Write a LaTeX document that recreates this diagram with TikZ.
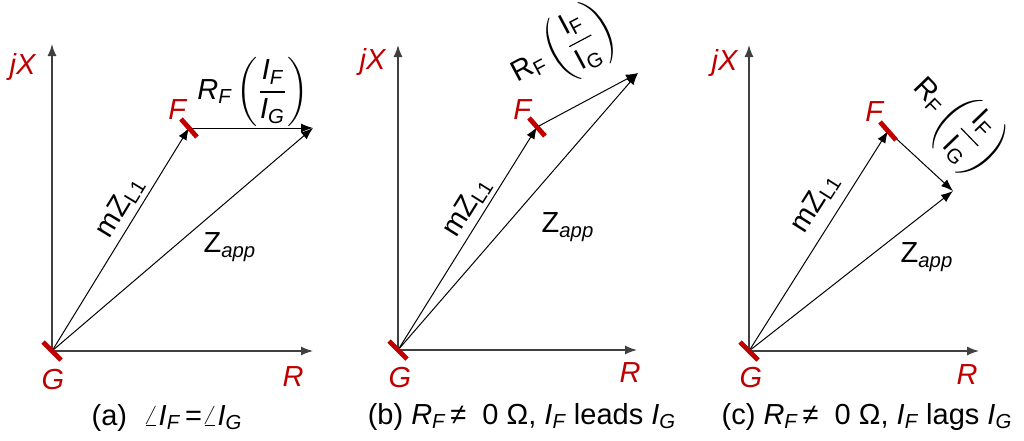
\documentclass[tikz,border=0pt]{standalone}
\usepackage{amsmath}
\usepackage{fontspec}
\setmainfont{Liberation Sans}
\usetikzlibrary{arrows.meta, calc}

\definecolor{faultred}{RGB}{192,0,0}

\tikzset{
  axisline/.style={draw=black!75, line width=0.7pt, -{Latex[length=6pt,width=4.5pt]}},
  phasor/.style={draw=black, line width=0.5pt, -{Latex[length=6pt,width=4.5pt]}},
  faultmark/.style={draw=faultred, line width=2.4pt},
  redlabel/.style={text=faultred, inner sep=0pt, font=\fontsize{14.5}{17}\selectfont},
  veclabel/.style={inner sep=0pt, font=\fontsize{14.5}{17}\selectfont},
  caption/.style={inner sep=0pt, font=\fontsize{14.5}{17}\selectfont},
}

\begin{document}
\begin{tikzpicture}[x=0.5pt, y=-0.5pt]
  \useasboundingbox (0,0) rectangle (1024,440);

  % points of the three diagrams
  \coordinate (Ga) at (52,351);  \coordinate (Fa) at (189,128);
  \coordinate (Ea) at (313,128); \coordinate (Xa) at (313,351);
  \coordinate (Ya) at (52,44);
  \coordinate (Gb) at (398,350); \coordinate (Fb) at (537,127);
  \coordinate (Eb) at (638,73);  \coordinate (Xb) at (637,350);
  \coordinate (Yb) at (398,45);
  \coordinate (Gc) at (749,351); \coordinate (Fc) at (888,131);
  \coordinate (Ec) at (953,191); \coordinate (Xc) at (979,351);
  \coordinate (Yc) at (749,45);

  % (a) I_F in phase with I_G
  \draw[axisline] (Ga) -- (Ya);
  \draw[axisline] (Ga) -- (Xa);
  \draw[phasor] (Ga) -- (Fa);
  \draw[phasor] (Fa) -- (Ea);
  \draw[phasor] (Ga) -- (Ea);
  \draw[faultmark] ($(Ga)+(-9,-9)$) -- ($(Ga)+(9,9)$);
  \draw[faultmark] ($(Fa)+(-8,-9)$) -- ($(Fa)+(8,9)$);
  \node[redlabel] (jXa) at (23,67) {\textit{jX}};
  \node[redlabel] (Fla) at (178,110) {\textit{F}};
  \node[redlabel] (Gla) at (53,380) {\textit{G}};
  \node[redlabel] (Rla) at (293,377) {\textit{R}};
  \node[veclabel, rotate=58.7] (mZa) at (120,207) {m$\textup{Z}_{\textup{L1}}$};
  \node[veclabel] (Zappa) at (230,247) {$\textup{Z}_{\textit{app}}$};
  \node[veclabel] (RFa) at (253,92)
    {$\textit{R}_{\textit{F}}\left(\dfrac{\textit{I}_{\textit{F}}}{\textit{I}_{\textit{G}}}\right)$};
  \node[caption] (capa) at (167,418)
    {(a)\ \ $\angle\textit{I}_{\textit{F}}$\,=$\angle\textit{I}_{\textit{G}}$};

  % (b) I_F leads I_G
  \draw[axisline] (Gb) -- (Yb);
  \draw[axisline] (Gb) -- (Xb);
  \draw[phasor] (Gb) -- (Fb);
  \draw[phasor] (Fb) -- (Eb);
  \draw[phasor] (Gb) -- (Eb);
  \draw[faultmark] ($(Gb)+(-9,-9)$) -- ($(Gb)+(9,9)$);
  \draw[faultmark] ($(Fb)+(-8,-9)$) -- ($(Fb)+(8,9)$);
  \node[redlabel] (jXb) at (373,62) {\textit{jX}};
  \node[redlabel] (Flb) at (523,110) {\textit{F}};
  \node[redlabel] (Glb) at (400,378) {\textit{G}};
  \node[redlabel] (Rlb) at (630,373) {\textit{R}};
  \node[veclabel, rotate=58] (mZb) at (467,207) {m$\textup{Z}_{\textup{L1}}$};
  \node[veclabel] (Zappb) at (568,227) {$\textup{Z}_{\textit{app}}$};
  \node[veclabel, rotate=28] (RFb) at (563,50)
    {$\textup{R}_{\textup{F}}\left(\dfrac{\textup{I}_{\textup{F}}}{\textup{I}_{\textup{G}}}\right)$};
  \node[caption] (capb) at (522,417)
    {(b) $\textit{R}_{\textit{F}}$\,≠\ \ 0 Ω, $\textit{I}_{\textit{F}}$ leads $\textit{I}_{\textit{G}}$};

  % (c) I_F lags I_G
  \draw[axisline] (Gc) -- (Yc);
  \draw[axisline] (Gc) -- (Xc);
  \draw[phasor] (Gc) -- (Fc);
  \draw[phasor] (Fc) -- (Ec);
  \draw[phasor] (Gc) -- (Ec);
  \draw[faultmark] ($(Gc)+(-9,-9)$) -- ($(Gc)+(9,9)$);
  \draw[faultmark] ($(Fc)+(-8,-9)$) -- ($(Fc)+(8,9)$);
  \node[redlabel] (jXc) at (725,63) {\textit{jX}};
  \node[redlabel] (Flc) at (875,112) {\textit{F}};
  \node[redlabel] (Glc) at (751,378) {\textit{G}};
  \node[redlabel] (Rlc) at (967,375) {\textit{R}};
  \node[veclabel, rotate=57.7] (mZc) at (815,203) {m$\textup{Z}_{\textup{L1}}$};
  \node[veclabel] (Zappc) at (927,257) {$\textup{Z}_{\textit{app}}$};
  \node[veclabel, rotate=-46] (RFc) at (956,123)
    {$\textup{R}_{\textup{F}}\left(\dfrac{\textup{I}_{\textup{F}}}{\textup{I}_{\textup{G}}}\right)$};
  \node[caption] (capc) at (867,417)
    {(c) $\textit{R}_{\textit{F}}$\,≠\ \ 0 Ω, $\textit{I}_{\textit{F}}$ lags $\textit{I}_{\textit{G}}$};
\end{tikzpicture}
\end{document}
